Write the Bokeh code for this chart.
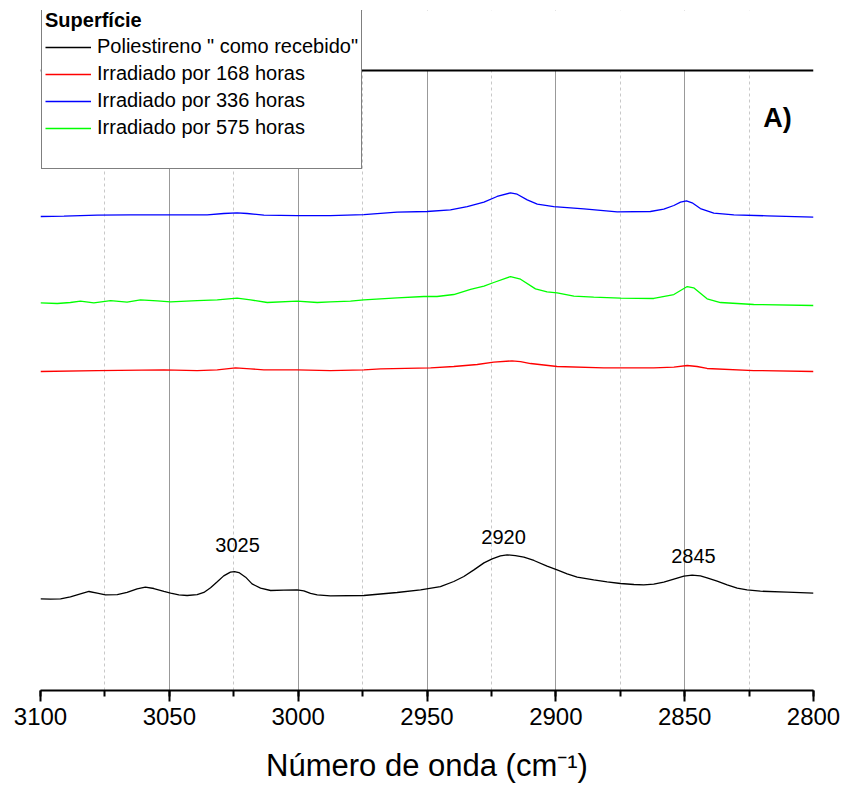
import numpy as np
from bokeh.plotting import figure
from bokeh.models import (Range1d, SingleIntervalTicker, Legend, LegendItem,
                          BoxAnnotation, Span)
from bokeh.core.properties import value
from bokeh.embed import file_html
from bokeh.resources import INLINE

# ---------------- data (wavenumber cm-1, relative intensity) ----------------
wn_black = [3100.0, 3096.1, 3092.2, 3088.4, 3084.5, 3081.2, 3078.0, 3074.8, 3070.2, 3066.4,
            3062.5, 3059.3, 3056.0, 3052.1, 3049.5, 3046.3, 3043.1, 3039.2, 3036.6, 3034.0,
            3031.4, 3028.9, 3026.3, 3024.7, 3023.0, 3020.4, 3017.9, 3014.6, 3010.7, 3005.6,
            3000.4, 2997.8, 2995.2, 2992.6, 2987.5, 2974.5, 2961.6, 2952.5, 2944.8, 2939.6,
            2935.7, 2931.8, 2927.9, 2924.7, 2921.5, 2918.9, 2915.7, 2912.4, 2908.5, 2903.4,
            2899.5, 2895.6, 2891.7, 2885.3, 2880.1, 2874.9, 2869.7, 2865.9, 2862.0, 2858.1,
            2854.2, 2850.3, 2847.1, 2843.9, 2841.3, 2837.4, 2833.5, 2829.6, 2825.8, 2820.6,
            2810.2, 2800.0]
int_black = [14.78, 14.73, 14.78, 15.11, 15.59, 15.97, 15.70, 15.43, 15.48, 15.81,
             16.40, 16.67, 16.45, 15.97, 15.70, 15.43, 15.32, 15.48, 15.81, 16.56,
             17.53, 18.49, 19.09, 19.19, 19.03, 18.28, 17.20, 16.50, 16.13, 16.18,
             16.24, 16.08, 15.65, 15.43, 15.27, 15.32, 15.81, 16.24, 16.77, 17.58,
             18.39, 19.46, 20.59, 21.24, 21.72, 21.88, 21.77, 21.51, 20.97, 20.05,
             19.46, 18.82, 18.28, 17.85, 17.53, 17.26, 17.10, 17.04, 17.15, 17.47,
             17.96, 18.44, 18.60, 18.49, 18.17, 17.63, 17.04, 16.50, 16.24, 16.02,
             15.86, 15.70]

wn_168 = [3100.0, 3078.0, 3052.1, 3039.2, 3031.4, 3024.3, 3018.5, 3013.3, 3000.4, 2987.5,
          2974.5, 2968.0, 2948.6, 2939.6, 2930.5, 2924.1, 2917.0, 2913.7, 2909.8, 2899.5,
          2881.4, 2862.0, 2854.2, 2849.0, 2845.2, 2841.3, 2823.2, 2800.0]
int_168 = [51.45, 51.61, 51.72, 51.61, 51.72, 52.04, 51.88, 51.72, 51.72, 51.61,
           51.72, 51.88, 52.04, 52.26, 52.58, 52.96, 53.17, 53.06, 52.74, 52.26,
           52.04, 52.04, 52.15, 52.42, 52.26, 51.94, 51.61, 51.45]

wn_336 = [3100.0, 3090.9, 3078.0, 3065.1, 3052.1, 3035.3, 3028.9, 3023.7, 3019.8, 3013.3,
          3000.4, 2987.5, 2974.5, 2961.6, 2950.0, 2940.9, 2934.4, 2927.9, 2922.8, 2917.6,
          2915.0, 2911.1, 2907.2, 2900.8, 2889.1, 2876.2, 2863.3, 2858.1, 2854.2, 2851.6,
          2849.3, 2847.1, 2843.9, 2838.7, 2830.9, 2818.0, 2800.0]
int_336 = [76.45, 76.50, 76.67, 76.72, 76.72, 76.72, 76.94, 77.04, 76.94, 76.67,
           76.61, 76.61, 76.77, 77.15, 77.26, 77.53, 78.06, 78.76, 79.68, 80.27,
           80.05, 79.14, 78.44, 78.06, 77.69, 77.20, 77.26, 77.63, 78.23, 78.76,
           78.98, 78.66, 77.74, 76.99, 76.72, 76.56, 76.34]

wn_575 = [3100.0, 3093.5, 3088.4, 3084.5, 3079.3, 3072.8, 3066.4, 3061.2, 3054.7, 3049.5,
          3039.2, 3031.4, 3023.7, 3018.5, 3012.0, 3000.4, 2992.6, 2987.5, 2979.7, 2974.5,
          2961.6, 2951.2, 2946.1, 2939.6, 2933.1, 2927.9, 2924.1, 2917.6, 2913.7, 2907.9,
          2903.4, 2899.5, 2893.0, 2885.3, 2874.9, 2862.0, 2854.2, 2849.0, 2846.5, 2841.3,
          2836.1, 2823.2, 2800.0]
int_575 = [62.53, 62.42, 62.58, 62.80, 62.53, 62.90, 62.63, 63.01, 62.85, 62.69,
           62.90, 63.01, 63.28, 63.01, 62.58, 62.80, 62.58, 62.69, 62.80, 63.01,
           63.33, 63.55, 63.55, 63.87, 64.68, 65.21, 65.81, 66.77, 66.34, 64.78,
           64.30, 64.14, 63.60, 63.44, 63.28, 63.23, 63.87, 65.16, 64.95, 63.17,
           62.58, 62.26, 62.10]

series_labels = ['Poliestireno " como recebido"', "Irradiado por 168 horas",
                 "Irradiado por 336 horas", "Irradiado por 575 horas"]
legend_title = "Superfície"

peak_labels = ["3025", "2920", "2845"]
peak_x = [3023.5, 2920.3, 2846.6]
peak_y = [23.4, 24.7, 21.7]

panel_label = ["A)"]
panel_x = [2814]
panel_y = [92.3]

x_title = "Número de onda (cm⁻¹)"

FONT = "Liberation Sans"
TOP = 100.0          # top border of the data box
Y_MAX = 109.68       # frame extends above the box for the legend

# ---------------- figure ----------------
p = figure(width=845, height=793, output_backend="svg", toolbar_location=None,
           x_range=Range1d(3100, 2800), y_range=Range1d(0, Y_MAX),
           min_border_left=40, min_border_right=32, min_border_top=10,
           min_border_bottom=103, y_axis_location=None)
p.outline_line_color = None
p.background_fill_color = "white"
p.border_fill_color = "white"

ticker = SingleIntervalTicker(interval=50, num_minor_ticks=2)
ax = p.xaxis[0]
ax.ticker = ticker
ax.axis_line_width = 2
ax.axis_line_color = "black"
ax.major_tick_line_width = 2
ax.major_tick_line_color = "black"
ax.minor_tick_line_width = 2
ax.minor_tick_line_color = "black"
ax.major_tick_in = 0
ax.major_tick_out = 11
ax.minor_tick_in = 0
ax.minor_tick_out = 6
ax.major_label_text_font = FONT
ax.major_label_text_font_size = "24px"
ax.major_label_text_color = "black"
ax.major_label_standoff = 6
ax.axis_label = x_title
ax.axis_label_text_font = FONT
ax.axis_label_text_font_size = "31px"
ax.axis_label_text_font_style = "normal"
ax.axis_label_text_color = "black"
ax.axis_label_standoff = 20

p.xgrid.ticker = ticker
p.xgrid.grid_line_color = "#999999"
p.xgrid.grid_line_width = 1
p.xgrid.minor_grid_line_color = "#c8c8c8"
p.xgrid.minor_grid_line_dash = "3 3"
p.xgrid.minor_grid_line_width = 1
p.ygrid.grid_line_color = None

r_black = p.line(wn_black, int_black, line_color="black", line_width=1.3)
r_red = p.line(wn_168, int_168, line_color="#ff0000", line_width=1.3)
r_blue = p.line(wn_336, int_336, line_color="#0000ff", line_width=1.3)
r_green = p.line(wn_575, int_575, line_color="#00ff00", line_width=1.3)
r_blank = p.line(wn_black, int_black, line_alpha=0)

p.text(x=peak_x, y=peak_y, text=peak_labels, text_font=value(FONT),
       text_font_size="20px", text_align="center", text_baseline="middle",
       text_color="black")
p.text(x=panel_x, y=panel_y, text=panel_label, text_font=value(FONT),
       text_font_size="27px", text_font_style="bold", text_align="center",
       text_baseline="middle", text_color="black")

# blank area above the data box, and its black top border
p.add_layout(BoxAnnotation(bottom=TOP, fill_color="white", fill_alpha=1, line_color=None))
p.add_layout(Span(location=TOP, dimension="width", line_color="black", line_width=2))

legend = Legend(items=[LegendItem(label=series_labels[0], renderers=[r_black]),
                       LegendItem(label=series_labels[1], renderers=[r_red]),
                       LegendItem(label=series_labels[2], renderers=[r_blue]),
                       LegendItem(label=series_labels[3], renderers=[r_green]),
                       LegendItem(label=" ", renderers=[r_blank])],
                location=(1, 521), title=legend_title)
legend.title_text_font = FONT
legend.title_text_font_size = "20px"
legend.title_text_font_style = "bold"
legend.title_text_color = "black"
legend.title_standoff = 3
legend.label_text_font = FONT
legend.label_text_font_size = "20px"
legend.label_text_color = "black"
legend.label_height = 22
legend.glyph_height = 22
legend.glyph_width = 46
legend.label_standoff = 6
legend.spacing = 4
legend.padding = 3
legend.margin = 0
legend.border_line_color = "black"
legend.border_line_width = 1
legend.background_fill_color = "white"
legend.background_fill_alpha = 1
p.add_layout(legend, "center")

open("out.html", "w").write(file_html(p, INLINE))
